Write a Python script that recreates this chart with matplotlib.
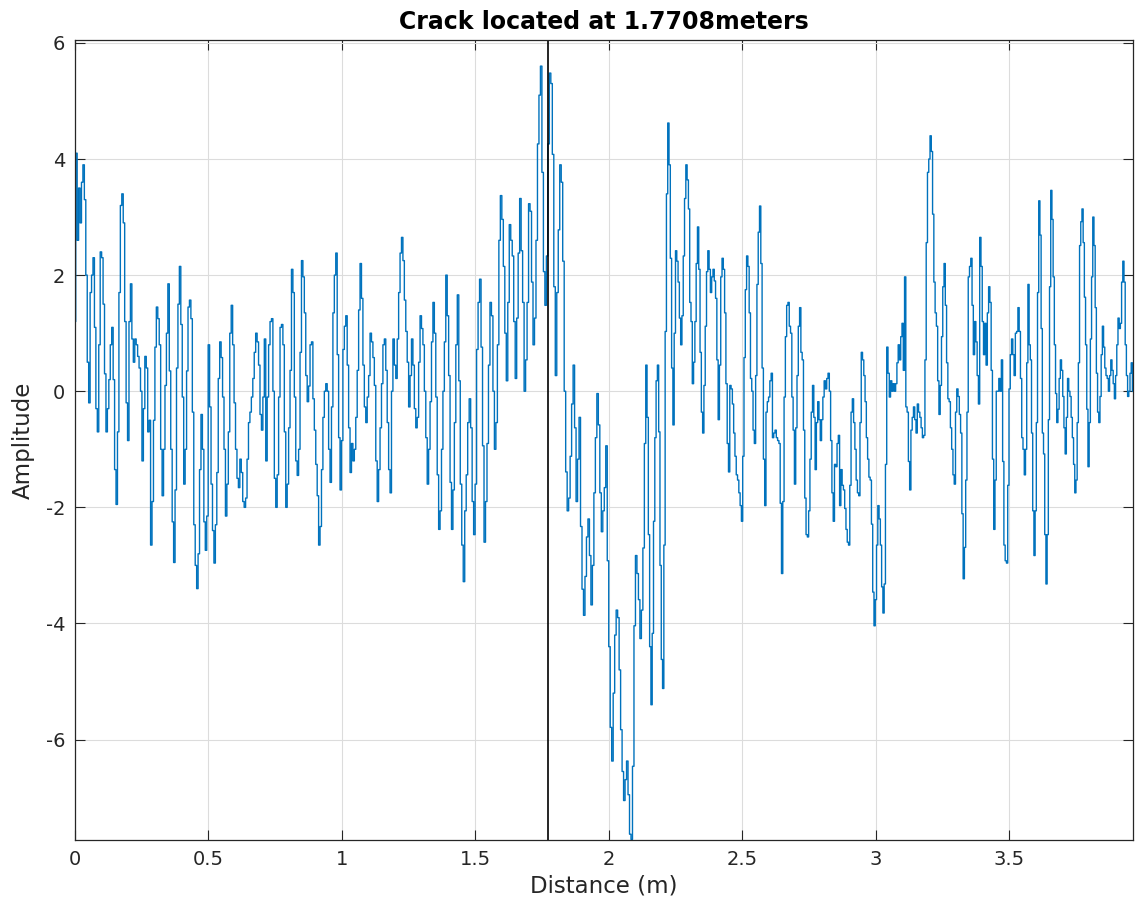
import numpy as np
import matplotlib.pyplot as plt

plt.rcParams['axes.unicode_minus'] = False
plt.rcParams['font.family'] = 'DejaVu Sans'

# amplitude, one list per stretch of distance
seg_edges = [0.0, 0.712, 1.424, 2.136, 2.848, 3.559, 3.964]

amp_a = [1.2, 4.1, 2.6, 3.5, 2.9, 3.6, 3.9, 3.3, 2.0, 0.5, -0.2, 1.7, 2.0, 2.3, 1.1, -0.3, -0.7, 0.8, 2.4, 2.3,
         1.5, 0.3, -0.7, -0.3, 0.2, 0.8, 1.1, 0.2, -1.35, -1.95, -0.7, 1.7, 3.2, 3.4, 2.9, 1.2, -0.2, -0.85, 1.2,
         1.85, 0.9, 0.5, 0.9, 0.8, 0.6, 0.4, 0.0, -1.2, -0.3, 0.6, 0.4, -0.7, -0.5, -2.65, -1.9, -0.5, 0.76, 1.45,
         1.25, 0.8, -1.0, -1.8, -1.0, 0.1, 1.0, 1.85, 0.35, -1.0, -2.25, -2.95, -1.7, 0.4, 1.5, 2.15, 1.15, -0.1,
         -1.6, -1.0, 0.35, 1.45, 1.57, 1.25, -0.36, -2.3, -3.0, -3.4, -2.8, -1.35, -0.4, -1.0, -2.25, -2.74, -2.15,
         0.8, -0.27, -1.6, -2.4, -2.96, -2.3, -1.4, 0.22, 0.85, 0.58, -0.1, -1.0, -2.15, -1.6, -0.7, 1.0, 1.48, 0.8,
         -0.2, -1.0, -1.5, -1.66, -1.17, -1.4, -1.9, -2.0, -1.84, -1.17, -0.54, -0.36, -0.1, 0.22, 0.67, 1.0, 0.85,
         0.45, -0.4, -0.67, -0.1]

amp_b = [0.9, -1.2, -0.1, 0.8, 1.2, 1.25, 0.0, -1.5, -2.0, -1.44, -0.1, 1.1, 1.15, 0.8, -0.7, -2.0, -1.6, -0.63,
         0.36, 2.1, 1.7, -0.1, -1.2, -1.45, -1.0, 0.67, 2.25, 1.97, 1.35, 0.27, -0.18, 0.09, 0.8, 0.85, -0.13, -0.67,
         -1.26, -1.8, -2.65, -2.33, -1.35, -0.45, 0.0, 0.13, 0.0, -1.0, -1.57, -0.27, 1.35, 2.0, 2.38, 0.63, -0.8,
         -1.7, -0.85, 0.72, 1.12, 1.3, 0.45, -0.63, -1.4, -0.9, -1.2, -1.0, -0.45, 0.36, 1.4, 2.2, 1.6, 0.45, -0.27,
         -0.54, -0.1, 0.27, 1.0, 0.85, 0.58, 0.1, -1.2, -1.9, -1.35, -0.63, 0.13, 0.8, 0.9, 0.36, -0.54, -1.35,
         -1.75, 0.0, 0.9, 0.45, 0.22, 0.9, 1.7, 2.38, 2.65, 2.25, 1.57, 1.03, 0.5, -0.27, 0.27, 0.9, 0.45, -0.3,
         -0.63, -0.45, 0.5, 1.3, 1.08, 0.8, 0.0, -0.8, -1.6, -1.0, -0.18, 0.85, 1.53, 1.0, -0.1, -1.44, -2.38, -2.06,
         -1.0, 0.0, 0.85, 2.0, 1.3, 0.27, -1.57, -2.38, -1.7]

amp_c = [-0.54, 0.8, 1.66, 0.18, -1.6, -2.65, -3.28, -2.06, -1.44, -0.54, -0.13, -0.63, -1.9, -2.47, -1.6, 0.72,
         1.53, 1.93, 0.76, -0.94, -2.6, -1.9, -0.9, 0.45, 1.53, 1.3, 0.0, -1.0, -0.54, 0.8, 2.6, 3.37, 2.96, 2.15,
         1.0, 0.18, 1.53, 2.87, 2.6, 2.33, 1.2, 0.22, 1.26, 2.38, 3.32, 2.42, 1.53, 0.0, 0.54, 1.53, 3.23, 3.1, 1.88,
         0.8, 1.26, 2.6, 4.26, 5.1, 5.6, 3.77, 2.06, 1.48, 2.33, 4.26, 5.48, 5.3, 4.08, 1.8, 0.27, 1.7, 2.78, 3.9,
         3.6, 2.24, 0.0, -1.39, -2.06, -1.84, -1.12, -0.22, 0.45, -0.63, -1.9, -1.17, -0.45, -2.33, -3.41, -3.86,
         -3.19, -2.51, -2.2, -2.83, -3.68, -3.0, -1.75, -0.8, -0.04, -0.58, -1.75, -2.42, -2.06, -1.66, -0.94, -2.92,
         -4.4, -5.79, -6.37, -5.2, -4.2, -3.77, -3.9, -4.8, -5.83, -6.55, -7.05, -6.69, -6.37, -6.95, -7.63, -7.72,
         -6.46, -4.04, -2.83, -3.14, -3.59, -4.26, -3.77, -2.7]

amp_d = [-0.9, 0.45, -0.45, -2.47, -4.4, -5.4, -4.17, -2.24, -0.8, 0.18, 0.45, -0.7, -3.0, -4.62, -5.12, -2.65,
         1.03, 3.4, 4.62, 3.9, 2.29, 0.4, -0.58, 1.0, 2.42, 2.24, 1.88, 1.26, 0.8, 1.3, 2.33, 3.32, 3.9, 3.64, 3.14,
         1.53, 1.2, 0.13, 0.5, 1.2, 2.2, 2.83, 2.1, 0.67, -0.36, -0.72, 0.1, 1.12, 2.06, 2.42, 2.1, 1.7, 1.97, 2.1,
         1.9, 1.6, 0.54, -0.49, 0.45, 1.97, 2.29, 2.1, 1.35, 0.13, -0.9, -1.39, 0.1, 0.04, -0.22, -0.72, -1.12,
         -1.44, -1.53, -1.75, -1.97, -2.24, -1.12, 0.58, 1.75, 2.33, 2.15, 1.35, 0.22, 0.0, -0.67, -0.9, 0.27, 1.84,
         2.74, 3.19, 2.2, 0.4, -1.17, -1.97, -0.36, -0.18, -0.1, 0.18, 0.31, -0.8, -0.72, -0.67, -0.8, -0.85, -0.9,
         -1.93, -3.14, -1.9, -0.1, 0.94, 1.48, 1.53, 1.12, 1.0, -0.1, -0.67, -1.6, -0.63, 0.27, 1.12, 1.44, 0.67,
         0.54, -0.67, -1.84, -2.47, -2.51, -2.06, -1.17, -0.36, 0.1, -0.45, -1.35, -0.54, -0.18, -0.49, -0.85, -0.49,
         -0.1, 0.18, 0.04, 0.22, 0.31, 0.0, -0.85, -1.75, -2.24]

amp_e = [-1.26, -1.3, -0.9, -0.76, -1.97, -1.35, -1.62, -1.7, -2.02, -2.38, -2.6, -2.65, -1.62, -0.36, -0.13,
         -0.54, -1.0, -1.53, -1.75, -1.8, -0.54, 0.67, 0.54, 0.27, -0.18, -0.8, -1.17, -1.48, -1.53, -2.29, -3.46,
         -4.04, -3.59, -2.65, -1.97, -2.2, -2.65, -3.37, -3.82, -3.32, -1.26, 0.76, 0.31, -0.1, 0.18, 0.0, 0.13, 0.0,
         0.13, 0.49, 0.8, 0.54, 0.94, 1.17, 0.36, 1.97, -0.27, -0.36, -1.21, -1.7, -0.67, -0.45, -0.27, -0.49, -0.72,
         -0.22, -0.36, -0.45, -0.63, -0.8, -0.76, 0.54, 2.56, 3.77, 4.0, 4.4, 4.13, 3.05, 1.88, 1.35, 1.12, 0.18,
         -0.4, 0.1, 0.94, 1.8, 2.2, 1.48, 0.49, -0.13, -0.18, -0.63, -1.0, -1.44, -1.6, -0.36, 0.04, -0.09, -0.4,
         -0.72, -2.11, -3.23, -2.69, -1.53, -0.36, 1.97, 2.15, 2.29, 1.48, 0.63, 1.2, 0.85, 0.27, -0.22, 2.65, 2.15,
         1.2, 0.63, 1.17, 0.45, 1.35, 1.8, 1.53, 0.36, -1.17, -2.38, -1.53, 0.0, 0.0, 0.22, 0.0, 0.54, -1.21, -2.65,
         -2.92, -2.96, -1.62, 0.04, 0.63, 0.9, 0.63, 0.27, 1.0, 1.03, 1.44, 1.03, 0.22, -0.8, -1.0]

amp_f = [-1.44, -1.0, 0.49, 1.84, 0.8, 0.54, -0.72, -2.06, -2.83, -2.06, -0.54, 1.7, 3.28, 2.69, 1.08, -0.72, -1.08,
         -2.47, -3.32, -2.47, -0.49, 1.8, 3.46, 2.96, 1.97, 0.8, -0.04, -0.54, -0.31, 0.22, 0.54, 0.36, -0.09, -0.63,
         -1.08, -0.45, 0.22, 0.0, -0.09, -0.45, -0.8, -1.26, -1.75, -1.53, -0.54, 0.49, 2.51, 2.92, 3.14, 2.56, 1.62,
         0.8, -0.31, -1.3, -0.54, 0.9, 1.97, 3.0, 2.51, 1.44, 0.31, -0.36, -0.54, -0.09, 0.63, 1.12, 0.76, 0.4, 0.27,
         0.22, 0.0, 0.27, 0.54, 0.36, 0.13, -0.13, 0.27, 0.8, 1.26, 1.08, 1.17, 1.88, 2.24, 1.88, 0.8, 0.27, -0.09,
         0.0, 0.31, 0.49, 0.0]

crack_pos = 1.7708
x_ticks = [0, 0.5, 1, 1.5, 2, 2.5, 3, 3.5]
y_ticks = [-6, -4, -2, 0, 2, 4, 6]

segments = [amp_a, amp_b, amp_c, amp_d, amp_e, amp_f]
xs = []
for i, seg in enumerate(segments):
    last = i == len(segments) - 1
    xs.append(np.linspace(seg_edges[i], seg_edges[i + 1], len(seg), endpoint=last))
dist = np.concatenate(xs)
amp = np.concatenate(segments)

txt = '#262626'
fig = plt.figure(figsize=(11.35, 9.09), dpi=100)
ax = fig.add_axes([75 / 1135, 69 / 909, 1058 / 1135, 800 / 909])

ax.plot(dist, amp, color='#0072BD', linewidth=1.0, drawstyle='steps-mid')
ax.axvline(crack_pos, color='black', linewidth=1.2)

ax.set_xlim(0, seg_edges[-1])
ax.set_ylim(-7.73, 6.05)
ax.set_xticks(x_ticks)
ax.set_xticklabels([f'{t:g}' for t in x_ticks])
ax.set_yticks(y_ticks)
ax.grid(True, color='#dcdcdc', linewidth=0.8)
ax.set_axisbelow(True)
ax.tick_params(direction='in', top=True, right=True, length=7, width=0.8,
               labelsize=14, colors=txt, pad=7)
for s in ax.spines.values():
    s.set_color(txt)
    s.set_linewidth(0.9)

ax.set_xlabel('Distance (m)', fontsize=16.5, color=txt, labelpad=4)
ax.set_ylabel('Amplitude', fontsize=16.5, color=txt, labelpad=8)
ax.set_title('Crack located at 1.7708meters', fontsize=17, fontweight='bold', color='black', pad=8)

fig.savefig('out.png', dpi=100)
